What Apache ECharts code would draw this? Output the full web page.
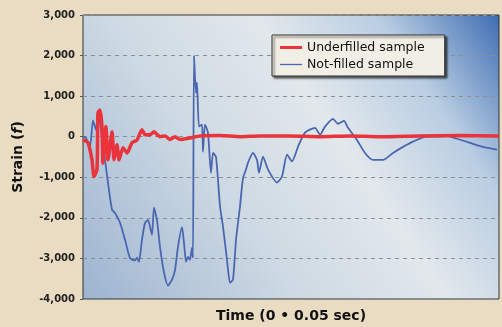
<!DOCTYPE html>
<html><head><meta charset="utf-8">
<script src="https://cdn.jsdelivr.net/npm/echarts@6/dist/echarts.min.js"></script>
<style>html,body{margin:0;padding:0;background:#eadcc2;}#c{width:502px;height:327px;}</style>
</head><body><div id="c"></div>
<script>
// time in ms (0..50), strain values
const notFilledT = [0,0.36,0.84,1.20,1.56,1.80,2.28,2.64,3.00,3.49,3.85,4.45,5.05,5.65,6.25,6.49,6.73,7.09,7.45,7.81,8.29,8.53,8.89,9.25,9.74,10.22,10.70,11.06,11.42,11.90,12.14,12.38,12.62,12.86,13.10,13.22,13.34,13.58,13.70,13.94,14.30,14.42,14.66,15.02,15.38,15.63,15.99,16.47,16.83,17.31,17.67,18.03,18.39,18.87,19.23,19.59,19.83,20.43,20.91,21.15,21.63,22.24,23.32,23.92,24.52,25.12,25.84,26.68,27.88,28.49,29.09,30.05,30.65,31.37,31.85,32.93,33.89,34.86,36.06,37.26,38.46,39.66,41.35,42.55,43.75,44.95,46.51,48.08,49.76];
const notFilledV = [0,-30,-250,400,170,600,0,-570,-1130,-1800,-1880,-2120,-2540,-2990,-3050,-2980,-3080,-2540,-2130,-2050,-2420,-1750,-2050,-2710,-3350,-3670,-3520,-3280,-2710,-2230,-2620,-3080,-2960,-3030,-2740,-2980,2000,1080,1330,250,300,-370,300,100,-890,-400,-500,-1720,-2220,-3040,-3600,-3520,-2540,-1720,-1020,-810,-640,-400,-570,-890,-490,-810,-1130,-980,-440,-610,-250,100,220,50,250,440,320,390,220,-80,-400,-570,-570,-400,-250,-120,0,0,20,-50,-150,-250,-320];
const underT = [0,0.60,1.08,1.32,1.68,1.80,2.04,2.28,2.40,2.76,3.00,3.49,3.73,4.09,4.33,4.81,5.29,5.89,6.49,7.09,7.45,8.05,8.53,9.25,9.86,10.46,11.06,11.66,12.86,14.06,16.47,18.87,21.27,24.88,28.49,32.09,35.70,40.50,45.31,50];
const underV = [-80,-150,-570,-980,-810,590,660,250,-650,250,-570,120,-570,-200,-570,-270,-400,-150,-80,170,50,50,120,0,20,-70,0,-70,-30,20,30,0,20,20,0,20,0,20,30,20];
const yTicks = [-4000,-3000,-2000,-1000,0,1000,2000,3000];
const seriesNames = ['Underfilled sample','Not-filled sample'];

const zip = (a,b)=>a.map((t,i)=>[t,b[i]]);
const chart = echarts.init(document.getElementById('c'));
chart.setOption({
  backgroundColor:'#eadcc2',
  animation:false,
  grid:{left:83,right:3,top:15,bottom:28,outerBoundsMode:'none',containLabel:false,show:true,borderColor:'#333',borderWidth:1,
    backgroundColor:new echarts.graphic.LinearGradient(0,1,1,0,[
      {offset:0,color:'#9db4d0'},{offset:0.35,color:'#cdd9e3'},{offset:0.6,color:'#e2e8ec'},
      {offset:0.8,color:'#b9cde2'},{offset:1,color:'#3e6db3'}])},
  legend:{orient:'vertical',left:272,top:35,padding:[6,20,5,8],
    backgroundColor:'#f1eee6',borderColor:'#333',borderWidth:1,
    shadowColor:'rgba(0,0,0,0.6)',shadowOffsetX:2,shadowOffsetY:2,shadowBlur:2,
    itemWidth:22,itemHeight:13,itemGap:4,
    textStyle:{fontFamily:'DejaVu Sans',fontSize:12.5,color:'#111'},
    data:[{name:seriesNames[0],icon:'path://M0,5 L22,5 L22,8 L0,8 Z',itemStyle:{color:'#e8343a'}},
          {name:seriesNames[1],icon:'path://M0,6 L22,6 L22,7.3 L0,7.3 Z',itemStyle:{color:'#4a66b0'}}]},
  xAxis:{type:'value',min:0,max:50,axisLabel:{show:false},axisTick:{show:false},splitLine:{show:false},
    axisLine:{show:false},name:'Time (0 • 0.05 sec)',nameLocation:'middle',nameGap:10,
    nameTextStyle:{fontFamily:'DejaVu Sans',fontWeight:'bold',fontSize:14,color:'#111'}},
  yAxis:{type:'value',min:-4000,max:3000,interval:1000,
    axisLabel:{fontFamily:'DejaVu Sans',fontWeight:'bold',fontSize:10,color:'#222',margin:8,
      formatter:v=>yTicks.includes(v)?v.toLocaleString('en-US'):''},
    axisTick:{show:true,length:3,lineStyle:{color:'#555'}},axisLine:{show:false},
    splitLine:{lineStyle:{color:'#8a8f96',type:[4,4],width:1}},
    name:'Strain ({i|f})',nameLocation:'middle',nameGap:58,nameRotate:90,
    nameTextStyle:{fontFamily:'DejaVu Sans',fontWeight:'bold',fontSize:14,color:'#111',
      rich:{i:{fontFamily:'DejaVu Sans',fontWeight:'bold',fontStyle:'italic',fontSize:14,color:'#111'}}}},
  series:[
    {name:seriesNames[1],type:'line',data:zip(notFilledT,notFilledV),symbol:'none',smooth:0.2,
      lineStyle:{color:'#4a66b0',width:1.8},itemStyle:{color:'#4a66b0'},z:2},
    {name:seriesNames[0],type:'line',data:zip(underT,underV),symbol:'none',smooth:0.2,
      lineStyle:{color:'#e8343a',width:3.5},itemStyle:{color:'#e8343a'},z:3}
  ]
});
</script></body></html>
